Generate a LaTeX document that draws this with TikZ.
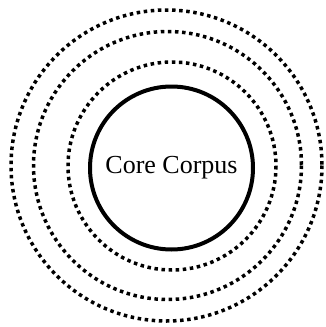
\documentclass[tikz,border=0pt]{standalone}
\usepackage{fontspec}
\setmainfont{Liberation Serif}
\begin{document}
\begin{tikzpicture}[x=1pt,y=-1pt,
  ringdot/.style={draw=black,line width=3.5pt,dash pattern=on 3.5pt off 3.6pt},
  corering/.style={circle,draw=black,line width=4pt,minimum size=163pt,inner sep=0pt,font=\fontsize{26}{30}\selectfont}]
\useasboundingbox (0,0) rectangle (325,327);
\path[ringdot] (166.5,165.5) circle[radius=155.5];
\path[ringdot] (167.5,165.5) circle[radius=134];
\path[ringdot] (172,166) circle[radius=104];
\node[corering] (core) at (171.5,168) {Core Corpus};
\end{tikzpicture}
\end{document}
